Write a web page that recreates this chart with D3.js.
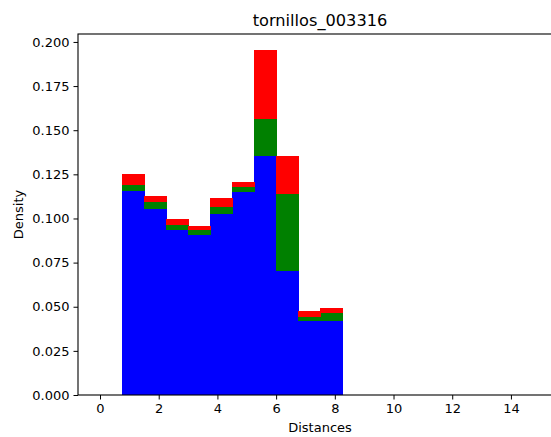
<!DOCTYPE html>
<html>
<head>
<meta charset="utf-8">
<script src="https://cdn.jsdelivr.net/npm/d3@7"></script>
<style>
  body { margin: 0; background: #fff; overflow: hidden; }
  text { font-family: "DejaVu Sans", sans-serif; }
</style>
</head>
<body>
<div id="chart"></div>
<script>
// histogram bin edges (Distances)
const binStart = 0.76
const binWidth = 0.749
const nBins = 10

// stacked series heights per bin (density)
const blueVals = [0.1155, 0.1053, 0.0936, 0.0907, 0.1023, 0.1152, 0.1356, 0.0705, 0.0420, 0.0419]
const greenVals = [0.0034, 0.0040, 0.0026, 0.0025, 0.0041, 0.0028, 0.0207, 0.0431, 0.0023, 0.0047]
const redVals = [0.0061, 0.0032, 0.0036, 0.0028, 0.0053, 0.0028, 0.0392, 0.0216, 0.0034, 0.0028]

const xTicks = [0, 2, 4, 6, 8, 10, 12, 14]
const yTicks = [0, 0.025, 0.05, 0.075, 0.1, 0.125, 0.15, 0.175, 0.2]

const W = 551, H = 437
// the axes box runs past the right edge of the picture
const margin = { top: 34, right: -11, bottom: 42, left: 78 }
const width = W - margin.left - margin.right,
    height = H - margin.top - margin.bottom

const svg = d3.select("#chart").append("svg")
    .attr("width", W)
    .attr("height", H)
    .style("display", "block")

const g = svg.append("g")
    .attr("transform", `translate(${margin.left},${margin.top})`)

const x = d3.scaleLinear().domain([-0.75, 15.74]).range([0, width])
const y = d3.scaleLinear().domain([0, 0.2045]).range([height, 0])

// build rows for d3.stack
const rows = d3.range(nBins).map(function (i) {
    return {
        x0: binStart + i * binWidth,
        x1: binStart + (i + 1) * binWidth,
        blue: blueVals[i], green: greenVals[i], red: redVals[i]
    }
})
const keys = ["blue", "green", "red"]
const colors = { blue: "#0000ff", green: "#008000", red: "#ff0000" }
const stacked = d3.stack().keys(keys)(rows)

g.selectAll(".layer")
    .data(stacked)
    .join("g")
    .attr("class", "layer")
    .attr("fill", function (d) { return colors[d.key] })
    .attr("shape-rendering", "crispEdges")
    .selectAll("rect")
    .data(function (d) { return d })
    .join("rect")
    .attr("x", function (d) { return x(d.data.x0) })
    .attr("width", function (d) { return x(d.data.x1) - x(d.data.x0) + 0.5 })
    .attr("y", function (d) { return y(d[1]) })
    .attr("height", function (d) { return y(d[0]) - y(d[1]) })

// axes
const xAxis = g.append("g")
    .attr("transform", `translate(0,${height})`)
    .call(d3.axisBottom(x).tickValues(xTicks).tickSize(4.5).tickPadding(4).tickFormat(d3.format("d")))
const yAxis = g.append("g")
    .call(d3.axisLeft(y).tickValues(yTicks).tickSize(4.5).tickPadding(4).tickFormat(d3.format(".3f")))

for (const ax of [xAxis, yAxis]) {
    ax.select(".domain").remove()
    ax.selectAll("text").style("font-size", "13px").attr("fill", "#000")
    ax.selectAll("line").attr("stroke", "#000").attr("stroke-width", 1)
}

// frame
g.append("rect")
    .attr("width", width)
    .attr("height", height)
    .attr("fill", "none")
    .attr("stroke", "#000")
    .attr("stroke-width", 1.1)

// title and labels
svg.append("text")
    .attr("x", margin.left + width / 2)
    .attr("y", 26)
    .attr("text-anchor", "middle")
    .style("font-size", "16.2px")
    .text("tornillos_003316")

svg.append("text")
    .attr("x", margin.left + width / 2)
    .attr("y", 432)
    .attr("text-anchor", "middle")
    .style("font-size", "13px")
    .text("Distances")

svg.append("text")
    .attr("transform", `translate(23,${margin.top + height / 2}) rotate(-90)`)
    .attr("text-anchor", "middle")
    .style("font-size", "13px")
    .text("Density")
</script>
</body>
</html>
